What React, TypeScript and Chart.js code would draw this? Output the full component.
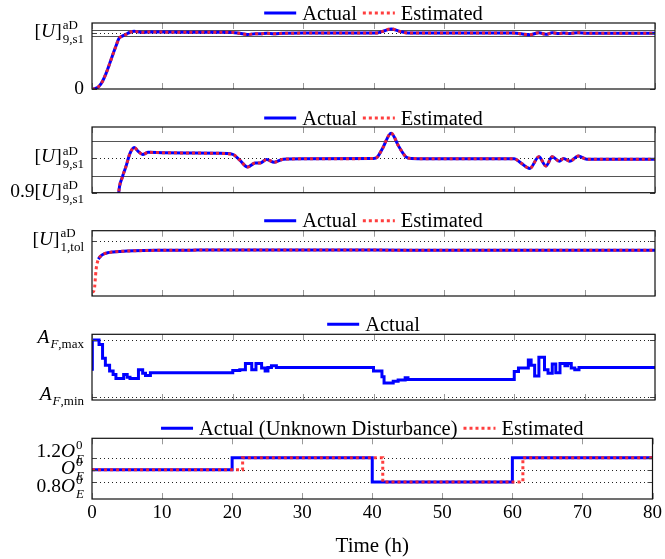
import React, { useEffect, useRef } from "react";
import { Chart, registerables } from "chart.js";
Chart.register(...registerables);

type Seg = { t: string; it?: boolean };
type RichLabel = { main: Seg[]; sup?: Seg[]; sub?: Seg[] };

const FAMILY = '"Liberation Serif", "DejaVu Serif", serif';

// ---------- shared x axis ----------
const xTickValues = [0, 10, 20, 30, 40, 50, 60, 70, 80];
const xTitle = "Time (h)";

// ---------- [U]_9,s1 (panels 1 and 2) ----------
const u9Time = [0, 0.5, 1, 1.5, 2, 2.5, 3, 3.5, 3.8, 4.3, 4.8, 5.4, 6.0, 6.6, 7.2, 8, 10, 14, 18, 20, 21, 22.1, 23.2, 23.9, 24.8, 25.9, 27.2, 30, 40, 40.5, 41.3, 42.5, 43.6, 44.6, 45.4, 50, 60, 61, 62.2, 63.5, 64.5, 65.4, 66.4, 67, 67.9, 69.1, 70.3, 80];
const u9Actual = [0, 0.01, 0.05, 0.14, 0.28, 0.45, 0.63, 0.8, 0.9, 0.945, 0.975, 1.015, 1.032, 1.02, 1.012, 1.018, 1.017, 1.016, 1.015, 1.012, 0.995, 0.975, 0.987, 0.987, 0.997, 0.989, 0.998, 0.999, 1.0, 1.003, 1.03, 1.074, 1.035, 1.005, 1.0, 0.999, 0.999, 0.986, 0.971, 1.005, 0.978, 1.005, 0.992, 1.0, 0.992, 1.007, 0.998, 0.998];
const u9Estimated = [0, 0.01, 0.05, 0.14, 0.28, 0.45, 0.63, 0.8, 0.9, 0.945, 0.975, 1.015, 1.032, 1.02, 1.012, 1.018, 1.017, 1.016, 1.015, 1.012, 0.995, 0.975, 0.987, 0.987, 0.997, 0.989, 0.998, 0.999, 1.0, 1.003, 1.03, 1.074, 1.035, 1.005, 1.0, 0.999, 0.999, 0.986, 0.971, 1.005, 0.978, 1.005, 0.992, 1.0, 0.992, 1.007, 0.998, 0.998];
const u9Target = [1];
const u9Band = [0.95, 1.05];

// ---------- [U]_1,tol (panel 3) ----------
const tolEstTime = [0, 0.3, 0.6, 0.9, 1.2, 1.6, 2.2, 3, 4, 6, 9, 15, 25, 40, 55, 65, 80];
const tolEstimated = [0.07, 0.1, 0.5, 0.67, 0.72, 0.76, 0.785, 0.8, 0.81, 0.822, 0.83, 0.834, 0.835, 0.834, 0.833, 0.831, 0.83];
const tolActTime = [0.9, 1.2, 1.6, 2.2, 3, 4, 6, 9, 15, 25, 40, 55, 65, 80];
const tolActual = [0.67, 0.72, 0.76, 0.785, 0.8, 0.81, 0.822, 0.83, 0.834, 0.835, 0.834, 0.833, 0.831, 0.83];
const tolTarget = [1];

// ---------- A_F (panel 4), 0 = A_F,min, 1 = A_F,max ----------
const afTime = [0, 0.05, 1.0, 1.5, 1.9, 2.5, 3.0, 3.4, 4.5, 5.0, 5.4, 6.6, 7.2, 7.6, 8.3, 20.0, 21.0, 21.8, 22.7, 23.3, 24.1, 24.6, 25.0, 25.5, 26.2, 40.0, 41.2, 41.5, 42.8, 43.5, 44.5, 44.9, 60.0, 60.6, 62.0, 62.4, 62.9, 63.5, 64.3, 64.8, 65.4, 65.9, 66.5, 67.2, 67.6, 68.1, 68.6, 69.2, 80];
const afActual = [0.49, 1.0, 0.92, 0.68, 0.56, 0.46, 0.4, 0.33, 0.4, 0.35, 0.33, 0.48, 0.42, 0.38, 0.43, 0.47, 0.48, 0.59, 0.48, 0.59, 0.51, 0.46, 0.52, 0.55, 0.52, 0.46, 0.36, 0.25, 0.28, 0.3, 0.34, 0.31, 0.45, 0.51, 0.65, 0.56, 0.37, 0.7, 0.48, 0.42, 0.58, 0.43, 0.59, 0.55, 0.59, 0.51, 0.48, 0.52, 0.52];
const afLimits = [0, 1];

// ---------- O_E (panel 5), relative to O_E^0 ----------
const oeActTime = [0, 20, 40, 60, 80];
const oeActual = [1.0, 1.2, 0.8, 1.2, 1.2];
const oeEstTime = [0, 21.5, 41.5, 61.5, 80];
const oeEstimated = [1.0, 1.2, 0.8, 1.2, 1.2];
const oeLevels = [0.8, 1.0, 1.2];

// ---------- tick labels ----------
const U = (pre: string, sub: string): RichLabel => ({
  main: [{ t: pre + "[" }, { t: "U", it: true }, { t: "]" }],
  sup: [{ t: "aD" }],
  sub: [{ t: sub }],
});
const p1TickValues = [0, 1];
const p1TickLabels: RichLabel[] = [{ main: [{ t: "0" }] }, U("", "9,s1")];
const p2TickValues = [0.9, 1];
const p2TickLabels: RichLabel[] = [U("0.9", "9,s1"), U("", "9,s1")];
const p3TickValues = [1];
const p3TickLabels: RichLabel[] = [U("", "1,tol")];
const p4TickValues = [0, 1];
const p4TickLabels: RichLabel[] = [
  { main: [{ t: "A", it: true }], sub: [{ t: "F", it: true }, { t: ",min" }] },
  { main: [{ t: "A", it: true }], sub: [{ t: "F", it: true }, { t: ",max" }] },
];
const p5TickValues = [0.8, 1.0, 1.2];
const p5TickLabels: RichLabel[] = [
  { main: [{ t: "0.8" }, { t: "O", it: true }], sup: [{ t: "0" }], sub: [{ t: "E", it: true }] },
  { main: [{ t: "O", it: true }], sup: [{ t: "0" }], sub: [{ t: "E", it: true }] },
  { main: [{ t: "1.2" }, { t: "O", it: true }], sup: [{ t: "0" }], sub: [{ t: "E", it: true }] },
];
const p5LabelNudge = [6, 0, -5];

// ---------- drawing helpers ----------
const MAIN = 19.5;
const SCRIPT = 13;
const LEGEND = 20.5;
const fontStr = (it: boolean | undefined, size: number) => `${it ? "italic " : ""}${size}px ${FAMILY}`;

function segWidth(ctx: CanvasRenderingContext2D, segs: Seg[], size: number) {
  let w = 0;
  for (const s of segs) {
    ctx.font = fontStr(s.it, size);
    w += ctx.measureText(s.t).width;
  }
  return w;
}
function drawSegs(ctx: CanvasRenderingContext2D, segs: Seg[], x: number, y: number, size: number) {
  for (const s of segs) {
    ctx.font = fontStr(s.it, size);
    ctx.fillText(s.t, x, y);
    x += ctx.measureText(s.t).width;
  }
  return x;
}
function drawRich(ctx: CanvasRenderingContext2D, lab: RichLabel, rightX: number, cy: number) {
  const mainW = segWidth(ctx, lab.main, MAIN);
  const supW = lab.sup ? segWidth(ctx, lab.sup, SCRIPT) : 0;
  const subW = lab.sub ? segWidth(ctx, lab.sub, SCRIPT) : 0;
  const sw = Math.max(supW, subW);
  const gap = sw > 0 ? 1 : 0;
  const x0 = rightX - (mainW + gap + sw);
  const supRaise = 7.5;
  const subDrop = lab.sup ? 6 : 4.5;
  let top = -0.7 * MAIN;
  let bottom = 0.22 * MAIN;
  if (lab.sup) top = Math.min(top, -(supRaise + 0.7 * SCRIPT));
  if (lab.sub) bottom = Math.max(bottom, subDrop + 0.22 * SCRIPT);
  const base = cy - (top + bottom) / 2;
  ctx.textAlign = "left";
  ctx.textBaseline = "alphabetic";
  ctx.fillStyle = "#000";
  drawSegs(ctx, lab.main, x0, base, MAIN);
  if (lab.sup) drawSegs(ctx, lab.sup, x0 + mainW + gap, base - supRaise, SCRIPT);
  if (lab.sub) drawSegs(ctx, lab.sub, x0 + mainW + gap, base + subDrop, SCRIPT);
}

const decorPlugin = {
  id: "decor",
  beforeDatasetsDraw(chart: any, _args: any, opts: any) {
    const { ctx, chartArea: a, scales } = chart;
    const y = scales.y;
    ctx.save();
    for (const v of opts.dotted || []) {
      const py = Math.round(y.getPixelForValue(v)) + 0.5;
      ctx.strokeStyle = "#222";
      ctx.lineWidth = 1;
      ctx.setLineDash([1, 3]);
      ctx.beginPath();
      ctx.moveTo(a.left, py);
      ctx.lineTo(a.right, py);
      ctx.stroke();
    }
    for (const v of opts.solid || []) {
      const py = Math.round(y.getPixelForValue(v)) + 0.5;
      ctx.strokeStyle = "#555";
      ctx.lineWidth = 1.2;
      ctx.setLineDash([]);
      ctx.beginPath();
      ctx.moveTo(a.left, py);
      ctx.lineTo(a.right, py);
      ctx.stroke();
    }
    ctx.restore();
  },
  afterDatasetsDraw(chart: any, _args: any, opts: any) {
    const { ctx, chartArea: a, scales } = chart;
    const x = scales.x;
    const y = scales.y;
    ctx.save();
    ctx.setLineDash([]);
    // x tick marks (inward, top and bottom)
    ctx.strokeStyle = "#999";
    ctx.lineWidth = 1;
    for (const v of xTickValues) {
      const px = Math.round(x.getPixelForValue(v)) + 0.5;
      ctx.beginPath();
      ctx.moveTo(px, a.top);
      ctx.lineTo(px, a.top + 6);
      ctx.moveTo(px, a.bottom);
      ctx.lineTo(px, a.bottom - 6);
      ctx.stroke();
    }
    // y tick marks
    ctx.strokeStyle = "#444";
    const yTicks: number[] = opts.yTicks || [];
    for (const v of yTicks) {
      const py = Math.round(y.getPixelForValue(v)) + 0.5;
      ctx.beginPath();
      ctx.moveTo(a.left, py);
      ctx.lineTo(a.left + 5, py);
      ctx.moveTo(a.right, py);
      ctx.lineTo(a.right - 5, py);
      ctx.stroke();
    }
    // box
    ctx.strokeStyle = "#111";
    ctx.lineWidth = 1.2;
    ctx.strokeRect(a.left, a.top, a.right - a.left, a.bottom - a.top);
    // y labels
    const labels: RichLabel[] = opts.yLabels || [];
    const nudge: number[] = opts.nudge || [];
    yTicks.forEach((v, i) => {
      drawRich(ctx, labels[i], a.left - 8, y.getPixelForValue(v) + (nudge[i] || 0));
    });
    // legend
    const items = chart.data.datasets.filter((d: any) => d.label);
    ctx.font = fontStr(false, LEGEND);
    const sample = 32;
    const widths = items.map((d: any) => sample + 6 + ctx.measureText(d.label).width);
    const total = widths.reduce((s: number, w: number) => s + w, 0) + 6 * (items.length - 1);
    let lx = (a.left + a.right) / 2 - total / 2;
    const ly = a.top + (opts.legendOffset ?? -10);
    items.forEach((d: any, i: number) => {
      ctx.save();
      ctx.strokeStyle = d.borderColor;
      ctx.lineWidth = d.borderWidth;
      ctx.setLineDash(d.borderDash || []);
      ctx.beginPath();
      ctx.moveTo(lx, ly);
      ctx.lineTo(lx + sample, ly);
      ctx.stroke();
      ctx.restore();
      ctx.fillStyle = "#000";
      ctx.font = fontStr(false, LEGEND);
      ctx.textAlign = "left";
      ctx.textBaseline = "alphabetic";
      ctx.fillText(d.label, lx + sample + 6, ly + 6.5);
      lx += widths[i] + 6;
    });
    ctx.restore();
  },
};

const series = (t: number[], v: number[]) => t.map((x, i) => ({ x, y: v[i] }));
// lower "order" is drawn on top: estimated (red dotted) over actual (blue)
const blue = { borderColor: "#0000ff", borderWidth: 3, pointRadius: 0, fill: false, order: 2 };
const red = { borderColor: "rgba(255,35,35,0.88)", borderWidth: 3, borderDash: [3, 3], pointRadius: 0, fill: false, order: 1 };

type PanelSpec = {
  canvasTop: number;
  canvasHeight: number;
  padTop: number;
  padBottom: number;
  yMin: number;
  yMax: number;
  datasets: any[];
  yTicks: number[];
  yLabels: RichLabel[];
  nudge?: number[];
  dotted: number[];
  solid: number[];
  showX: boolean;
  legendOffset: number;
};

const panels: PanelSpec[] = [
  {
    canvasTop: 0, canvasHeight: 109, padTop: 23, padBottom: 20, yMin: 0, yMax: 1.18,
    datasets: [
      { ...blue, label: "Actual", data: series(u9Time, u9Actual), cubicInterpolationMode: "monotone" },
      { ...red, label: "Estimated", data: series(u9Time, u9Estimated), cubicInterpolationMode: "monotone" },
    ],
    yTicks: p1TickValues, yLabels: p1TickLabels, dotted: u9Target, solid: u9Band, showX: false, legendOffset: -10,
  },
  {
    canvasTop: 92, canvasHeight: 121, padTop: 35, padBottom: 121 - (192.7 - 92), yMin: 0.9, yMax: 1.092,
    datasets: [
      { ...blue, label: "Actual", data: series(u9Time, u9Actual), cubicInterpolationMode: "monotone" },
      { ...red, label: "Estimated", data: series(u9Time, u9Estimated), cubicInterpolationMode: "monotone" },
    ],
    yTicks: p2TickValues, yLabels: p2TickLabels, dotted: u9Target, solid: u9Band, showX: false, legendOffset: -9,
  },
  {
    canvasTop: 196, canvasHeight: 120, padTop: 34.7, padBottom: 120 - (296 - 196), yMin: 0, yMax: 1.187,
    datasets: [
      { ...blue, label: "Actual", data: series(tolActTime, tolActual), cubicInterpolationMode: "monotone" },
      { ...red, label: "Estimated", data: series(tolEstTime, tolEstimated), cubicInterpolationMode: "monotone" },
    ],
    yTicks: p3TickValues, yLabels: p3TickLabels, dotted: tolTarget, solid: [], showX: false, legendOffset: -10,
  },
  {
    canvasTop: 299, canvasHeight: 121, padTop: 35.3, padBottom: 121 - (400 - 299), yMin: -0.047, yMax: 1.1,
    datasets: [{ ...blue, label: "Actual", data: series(afTime, afActual), stepped: "before" }],
    yTicks: p4TickValues, yLabels: p4TickLabels, dotted: afLimits, solid: [], showX: false, legendOffset: -10,
  },
  {
    canvasTop: 403, canvasHeight: 156, padTop: 35.3, padBottom: 0, yMin: 0.52, yMax: 1.518,
    datasets: [
      { ...blue, label: "Actual (Unknown Disturbance)", data: series(oeActTime, oeActual), stepped: "before" },
      { ...red, label: "Estimated", data: series(oeEstTime, oeEstimated), stepped: "before" },
    ],
    yTicks: p5TickValues, yLabels: p5TickLabels, nudge: p5LabelNudge, dotted: oeLevels, solid: [], showX: true, legendOffset: -10,
  },
];

function Panel({ spec }: { spec: PanelSpec }) {
  const ref = useRef<HTMLCanvasElement>(null);
  useEffect(() => {
    const canvas = ref.current as HTMLCanvasElement;
    const chart = new Chart(canvas, {
      type: "line",
      data: { datasets: spec.datasets },
      options: {
        responsive: false,
        animation: false,
        devicePixelRatio: 1,
        layout: { padding: { left: 92, right: 10, top: spec.padTop, bottom: spec.padBottom } },
        plugins: {
          legend: { display: false },
          tooltip: { enabled: false },
          decor: {
            dotted: spec.dotted,
            solid: spec.solid,
            yTicks: spec.yTicks,
            yLabels: spec.yLabels,
            nudge: spec.nudge,
            legendOffset: spec.legendOffset,
          },
        } as any,
        scales: {
          x: {
            type: "linear",
            min: 0,
            max: 80,
            display: spec.showX,
            grid: { display: false, drawTicks: false },
            border: { display: false },
            ticks: {
              stepSize: 10,
              autoSkip: false,
              maxRotation: 0,
              padding: 3,
              color: "#000",
              font: { family: FAMILY, size: 19 },
            },
            title: {
              display: spec.showX,
              text: xTitle,
              color: "#000",
              font: { family: FAMILY, size: 21 },
              padding: { top: 6, bottom: 0 },
            },
          },
          y: { type: "linear", min: spec.yMin, max: spec.yMax, display: false },
        },
      } as any,
      plugins: [decorPlugin as any],
    });
    return () => chart.destroy();
  }, []);
  return (
    <canvas
      ref={ref}
      width={665}
      height={spec.canvasHeight}
      style={{ position: "absolute", left: 0, top: spec.canvasTop, width: 665, height: spec.canvasHeight }}
    />
  );
}

export default function App() {
  return (
    <div style={{ position: "absolute", left: 0, top: 0, width: 665, height: 559, background: "#fff" }}>
      {panels.map((p, i) => (
        <Panel key={i} spec={p} />
      ))}
    </div>
  );
}
